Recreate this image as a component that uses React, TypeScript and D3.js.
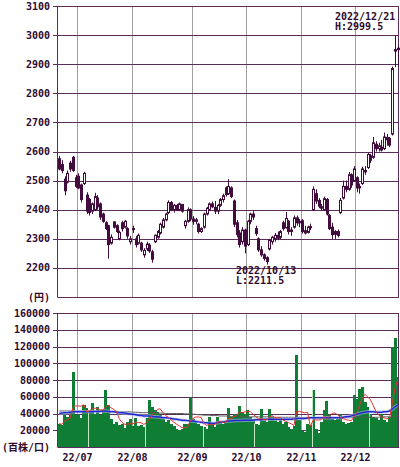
import React from "react";
import * as d3 from "d3";

// ---- data ----
const opens = [
  2575, 2555, 2505, 2495, 2560, 2580, 2510, 2515, 2485, 2490,
  2450, 2435, 2395, 2400, 2440, 2420, 2385, 2355, 2345, 2285,
  2358, 2345, 2300, 2355, 2340, 2335, 2290, 2335, 2300, 2285,
  2285, 2245, 2265, 2278, 2255, 2290, 2305, 2320, 2340, 2365,
  2390, 2425, 2400, 2415, 2400, 2418, 2345, 2360, 2400, 2368,
  2360, 2350, 2325, 2340, 2385, 2400, 2420, 2408, 2395, 2415,
  2435, 2475, 2455, 2475, 2430, 2355, 2320, 2290, 2330, 2280,
  2360, 2385, 2335, 2300, 2262, 2245, 2235, 2265, 2290, 2300,
  2312, 2305, 2355, 2338, 2360, 2325, 2340, 2372, 2355, 2362,
  2328, 2322, 2338, 2400, 2455, 2432, 2410, 2400, 2435, 2380,
  2340, 2315, 2325, 2390, 2440, 2480, 2470, 2520, 2500, 2510,
  2475, 2490, 2535, 2545, 2585, 2580, 2625, 2610, 2615, 2610,
  2648, 2645, 2660, 2950, 2955,
];
const highs = [
  2585, 2570, 2515, 2535, 2568, 2585, 2520, 2525, 2490, 2530,
  2460, 2440, 2425, 2458, 2450, 2425, 2390, 2360, 2348, 2315,
  2360, 2350, 2328, 2362, 2365, 2340, 2310, 2345, 2310, 2318,
  2290, 2268, 2290, 2285, 2262, 2315, 2330, 2355, 2372, 2390,
  2432, 2430, 2420, 2420, 2425, 2420, 2365, 2408, 2405, 2378,
  2372, 2355, 2340, 2390, 2410, 2425, 2428, 2430, 2420, 2440,
  2455, 2480, 2505, 2480, 2435, 2365, 2330, 2340, 2335, 2365,
  2390, 2395, 2345, 2305, 2275, 2250, 2240, 2300, 2310, 2320,
  2325, 2330, 2362, 2392, 2365, 2340, 2380, 2380, 2368, 2368,
  2345, 2345, 2352, 2480, 2470, 2440, 2420, 2445, 2440, 2385,
  2355, 2330, 2332, 2440, 2500, 2500, 2530, 2525, 2550, 2515,
  2490, 2548, 2550, 2595, 2592, 2650, 2635, 2630, 2640, 2665,
  2660, 2650, 2892, 2999.5, 2965,
];
const lows = [
  2535, 2525, 2450, 2490, 2530, 2530, 2475, 2470, 2425, 2485,
  2385, 2380, 2385, 2395, 2400, 2365, 2355, 2330, 2232, 2280,
  2335, 2320, 2295, 2325, 2335, 2300, 2280, 2320, 2270, 2280,
  2255, 2235, 2258, 2252, 2218, 2285, 2300, 2315, 2335, 2360,
  2385, 2395, 2390, 2395, 2395, 2390, 2335, 2355, 2360, 2348,
  2350, 2318, 2320, 2335, 2380, 2395, 2405, 2385, 2385, 2410,
  2425, 2445, 2450, 2440, 2340, 2305, 2270, 2280, 2250, 2275,
  2350, 2365, 2310, 2255, 2238, 2225, 2211.5, 2260, 2280, 2290,
  2295, 2298, 2328, 2335, 2315, 2310, 2335, 2345, 2340, 2318,
  2315, 2318, 2330, 2395, 2420, 2405, 2395, 2395, 2380, 2330,
  2300, 2300, 2305, 2385, 2435, 2460, 2465, 2475, 2495, 2460,
  2455, 2485, 2520, 2540, 2560, 2575, 2600, 2600, 2600, 2605,
  2620, 2615, 2655, 2890, 2890,
];
const closes = [
  2540, 2535, 2465, 2525, 2540, 2535, 2480, 2475, 2435, 2525,
  2395, 2390, 2420, 2445, 2410, 2375, 2360, 2335, 2280, 2305,
  2340, 2325, 2322, 2335, 2360, 2310, 2300, 2333, 2280, 2312,
  2262, 2260, 2282, 2258, 2230, 2312, 2325, 2350, 2365, 2385,
  2425, 2400, 2415, 2398, 2420, 2395, 2360, 2400, 2368, 2360,
  2365, 2325, 2335, 2385, 2405, 2420, 2410, 2395, 2415, 2435,
  2448, 2452, 2480, 2445, 2350, 2315, 2280, 2330, 2275, 2360,
  2385, 2375, 2318, 2262, 2245, 2232, 2222, 2295, 2305, 2312,
  2302, 2325, 2335, 2370, 2325, 2330, 2372, 2355, 2360, 2325,
  2320, 2340, 2342, 2470, 2430, 2412, 2405, 2438, 2385, 2335,
  2315, 2325, 2312, 2432, 2480, 2470, 2520, 2485, 2540, 2475,
  2480, 2540, 2530, 2590, 2570, 2630, 2610, 2620, 2605, 2650,
  2640, 2622, 2885, 2945, 2950,
];
const volumes = [
  28000, 26000, 40000, 36000, 42000, 89000, 38000, 40000, 35000, 50000,
  47000, 43000, 52000, 40000, 48000, 38000, 44000, 68000, 50000, 34000,
  28000, 30000, 26000, 28000, 23000, 30000, 33000, 25000, 35000, 25000,
  26000, 24000, 35000, 56000, 48000, 44000, 42000, 38000, 34000, 30000,
  32000, 27000, 25000, 22000, 20000, 21000, 28000, 27000, 60000, 34000,
  30000, 28000, 25000, 24000, 22000, 36000, 28000, 24000, 36000, 30000,
  28000, 30000, 46000, 36000, 40000, 38000, 49000, 42000, 40000, 44000,
  36000, 34000, 28000, 26000, 45000, 32000, 30000, 45000, 36000, 32000,
  30000, 34000, 28000, 30000, 24000, 22000, 25000, 110000, 32000, 19000,
  18000, 28000, 26000, 68000, 22000, 17000, 30000, 44000, 55000, 38000,
  34000, 32000, 33000, 40000, 30000, 28000, 29000, 30000, 62000, 57000,
  69000, 72000, 54000, 48000, 40000, 36000, 35000, 32000, 40000, 32000,
  30000, 36000, 120000, 130000, 84000,
];
// longer volume averages as drawn (thousands)
const volAvgBlue = [
  40, 40.5, 41, 41, 41.5, 42, 42, 42, 42, 42, 42,
  42, 42, 42.5, 42.5, 42.5, 43, 43, 42.5, 42, 42, 41.5, 41, 41, 40.5, 40,
  39.5, 39, 38.5, 38, 37.5, 37, 37, 37, 36.5, 36,
  36, 35.5, 35, 35, 34.5, 34, 33.5, 33, 32.5, 32, 32, 31.5, 31, 31, 30.5,
  30, 29.5, 29, 29, 28.5, 28.5, 28.5, 29, 29.5, 30,
  30.5, 31, 31, 31.5, 31.5, 31.5, 32, 32, 32, 32, 32, 32.5, 32.5, 32.5, 33,
  33, 33, 33, 33, 33, 33, 33, 33, 33, 33, 33.5, 34, 34, 34, 34,
  34.5, 35, 35, 35, 35, 35, 35, 35, 35, 35, 35, 35, 35, 35.5, 36,
  36.5, 37, 38, 39, 40, 41, 41.5, 42, 42, 42,
  41.5, 41.5, 41.5, 42, 42, 43, 45, 48, 50,
];
const volAvgGray = [
  43, 43, 43, 43, 43, 43, 43, 43, 43, 43, 43, 43, 43, 43, 43, 43, 43, 43,
  42.5, 42.5, 42.5, 42.5, 42, 42, 42,
  42, 42, 41.5, 41.5, 41.5, 41, 41, 41, 41, 41, 40.5, 40.5, 40.5, 40.5,
  40, 40, 40, 40, 40, 40, 40, 39.5, 39.5, 39.5, 39,
  39, 38.5, 38.5, 38, 38, 38, 37.5, 37.5, 37.5, 37, 37, 37, 37,
  36.5, 36.5, 36.5, 36.5, 36, 36, 36, 36, 36, 36, 36, 36,
  36, 36, 36, 36, 35.5, 35.5, 35.5, 35.5, 35.5, 35.5, 35.5, 35.5, 35.5, 35.5,
  35, 35, 35, 35, 35, 35, 35, 35, 35, 35, 35,
  35, 35, 35, 35, 35, 35, 35, 35, 35, 35,
  35.5, 35.5, 35.5, 35.5, 35.5, 35.5, 35.5, 35.5,
  36, 36, 36, 36, 36, 36, 36,
];
const priceTicks = [2200, 2300, 2400, 2500, 2600, 2700, 2800, 2900, 3000, 3100];
const volumeTicks = [20000, 40000, 60000, 80000, 100000, 120000, 140000, 160000];
const monthLabels = ["22/07", "22/08", "22/09", "22/10", "22/11", "22/12"];
const monthStartIndex = [7, 27, 49, 69, 89, 109];
const markerDays = [11, 32, 53, 72, 93, 114];
const highNote = ["2022/12/21", "H:2999.5"];
const lowNote = ["2022/10/13", "L:2211.5"];

const INK = "#2e0a2e";
const GRID_H = "#5a2d5a";
const GRID_V = "#a0a0a0";
const CANDLE = "#420d3e";
const BAR = "#0f7d34";
const FONT = "'DejaVu Sans Mono', 'Noto Sans CJK JP', monospace";

export default function App() {
  const W = 400, H = 467;
  const left = 57.5, right = 399;
  const n = closes.length;
  const x = d3.scaleBand<number>().domain(d3.range(n)).range([left + 0.4, right]).padding(0);
  const bw = x.bandwidth();
  const cx = (i: number) => (x(i) as number) + bw / 2;
  const yP = d3.scaleLinear().domain([2100, 3100]).range([297, 6]);
  const yV = d3.scaleLinear().domain([0, 160000]).range([447, 313]);

  const ma5 = volumes.map((_, i) => d3.mean(volumes.slice(Math.max(0, i - 4), i + 1)) as number);
  const lineV = d3.line<number>().x((_, i) => cx(i)).y((d) => yV(d));
  const lineK = d3.line<number>().x((_, i) => cx(i)).y((d) => yV(d * 1000));

  const gx = (i: number) => Math.round(x(i) as number) + 0.5;

  return (
    <div style={{ position: "fixed", left: 0, top: 0, width: W, height: H, background: "#fff" }}>
      <svg width={W} height={H} style={{ display: "block" }} fontFamily={FONT}>
        <rect width={W} height={H} fill="#fff" />
        {/* price panel grid */}
        {monthStartIndex.map((m) => (
          <line key={"pv" + m} x1={gx(m)} x2={gx(m)} y1={6} y2={297} stroke={GRID_V} />
        ))}
        {priceTicks.map((t) => (
          <line key={"ph" + t} x1={53} x2={right} y1={Math.round(yP(t)) + 0.5} y2={Math.round(yP(t)) + 0.5} stroke={GRID_H} />
        ))}
        <line x1={left} x2={left} y1={6} y2={297} stroke={GRID_H} />
        <line x1={right - 0.5} x2={right - 0.5} y1={6} y2={297} stroke={GRID_H} />
        <line x1={left} x2={right} y1={297.5} y2={297.5} stroke={GRID_H} />
        {priceTicks.map((t) => (
          <text key={"pt" + t} x={50} y={yP(t)} dy="0.35em" textAnchor="end" fontSize={10} fontWeight="bold" fill={INK}>
            {t}
          </text>
        ))}
        <text x={50} y={297} dy="0.35em" textAnchor="end" fontSize={10} fontWeight="bold" fill={INK}>(円)</text>

        {/* candles */}
        {closes.map((c, i) => {
          const o = opens[i];
          const up = c >= o;
          const top = yP(Math.max(o, c));
          const bot = yP(Math.min(o, c));
          const xc = Math.round(cx(i)) + 0.5;
          return (
            <g key={"c" + i}>
              <line x1={xc} x2={xc} y1={yP(highs[i])} y2={yP(lows[i])} stroke={CANDLE} />
              <rect
                x={xc - 1}
                y={top}
                width={2}
                height={Math.max(1, bot - top)}
                fill={up ? "#fff" : CANDLE}
                stroke={CANDLE}
                strokeWidth={1}
              />
            </g>
          );
        })}

        {/* annotations */}
        {highNote.map((s, k) => (
          <text key={"hn" + k} x={335} y={20 + k * 10} fontSize={10} fontWeight="bold" fill={INK}>{s}</text>
        ))}
        {lowNote.map((s, k) => (
          <text key={"ln" + k} x={236} y={274 + k * 10} fontSize={10} fontWeight="bold" fill={INK}>{s}</text>
        ))}

        {/* volume panel grid */}
        {monthStartIndex.map((m) => (
          <line key={"vv" + m} x1={gx(m)} x2={gx(m)} y1={313} y2={447} stroke={GRID_V} />
        ))}
        {volumeTicks.map((t) => (
          <line key={"vh" + t} x1={53} x2={right} y1={Math.round(yV(t)) + 0.5} y2={Math.round(yV(t)) + 0.5} stroke={GRID_H} />
        ))}
        {volumes.map((v, i) => (
          <rect key={"v" + i} x={x(i) as number} y={yV(v)} width={bw + 0.4} height={447 - yV(v)} fill={BAR} shapeRendering="crispEdges" />
        ))}
        {markerDays.map((m) => (
          <line key={"mk" + m} x1={gx(m)} x2={gx(m)} y1={yV(volumes[m])} y2={447} stroke="#c4e6c4" />
        ))}
        <path d={lineK(volAvgGray) as string} fill="none" stroke="#555a55" strokeWidth={1} />
        <path d={lineK(volAvgBlue) as string} fill="none" stroke="#b4b8ec" strokeWidth={3.5} opacity={0.6} />
        <path d={lineK(volAvgBlue) as string} fill="none" stroke="#1e2ad0" strokeWidth={1.5} />
        <path d={lineV(ma5) as string} fill="none" stroke="#e0342c" strokeWidth={1} />
        <line x1={left} x2={left} y1={313} y2={447} stroke={GRID_H} />
        <line x1={right - 0.5} x2={right - 0.5} y1={313} y2={447} stroke={GRID_H} />
        <line x1={left} x2={right} y1={447.5} y2={447.5} stroke={GRID_H} />
        {volumeTicks.map((t) => (
          <text key={"vt" + t} x={50} y={yV(t)} dy="0.35em" textAnchor="end" fontSize={10} fontWeight="bold" fill={INK}>
            {t}
          </text>
        ))}
        <text x={50} y={447} dy="0.35em" textAnchor="end" fontSize={10} fontWeight="bold" fill={INK}>(百株/口)</text>
        {monthLabels.map((l, k) => (
          <text key={"ml" + k} x={gx(monthStartIndex[k])} y={461} textAnchor="middle" fontSize={10} fontWeight="bold" fill={INK}>
            {l}
          </text>
        ))}
      </svg>
    </div>
  );
}
